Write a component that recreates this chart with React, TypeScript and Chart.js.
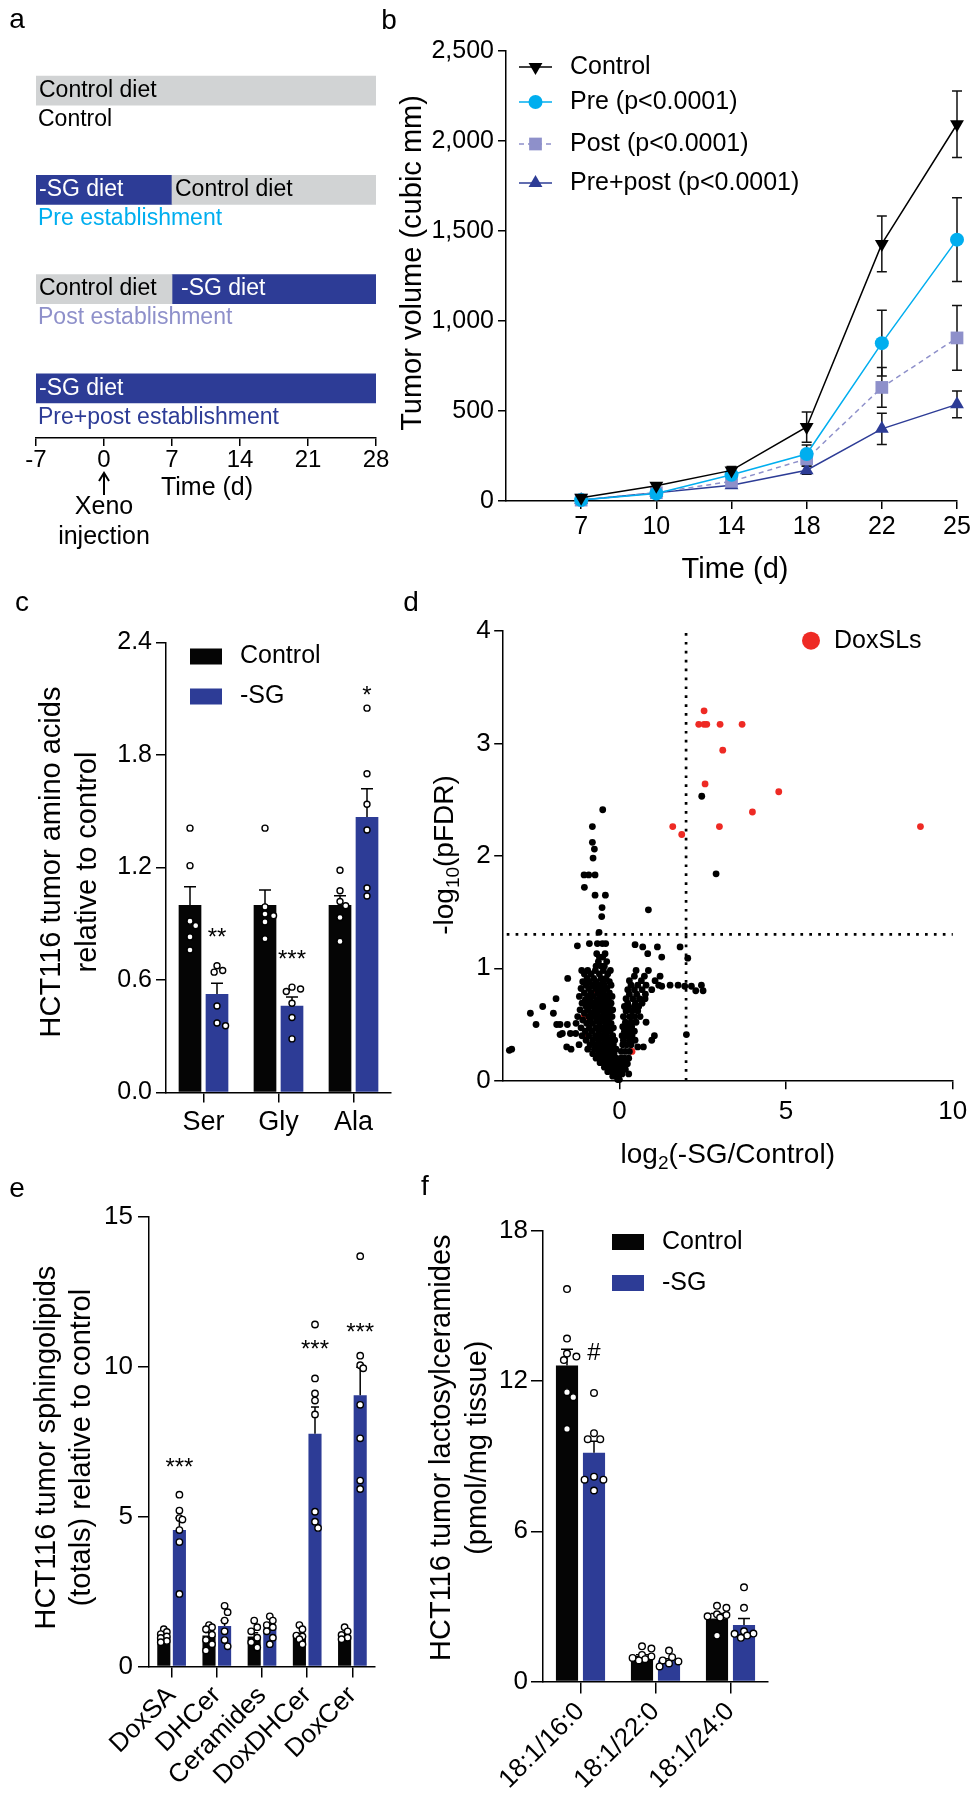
import React, { useEffect, useRef } from 'react';
import { Chart, registerables } from 'chart.js';

Chart.register(...registerables);

const FONT = '"Liberation Sans", Arial, Helvetica, sans-serif';
Chart.defaults.font.family = FONT;
Chart.defaults.color = '#000';

// ---------------- colours ----------------
const BLUE = '#2D3C96';
const CYAN = '#00AEEF';
const LAVENDER = '#8E90CA';
const GRAY = '#D1D3D4';
const BLACK = '#050505';
const RED = '#EE2A24';

// ---------------- panel a: study design ----------------
const aRows = ['Control', 'Pre establishment', 'Post establishment', 'Pre+post establishment'];
const aControlDiet = [[-7, 28], [7, 28], [-7, 7], null];
const aSgDiet = [null, [-7, 7], [7, 28], [-7, 28]];
const aDayTicks = [-7, 0, 7, 14, 21, 28];
const aInjectionDay = 0;

// ---------------- panel b: tumour growth ----------------
const bDays = ['7', '10', '14', '18', '22', '25'];
const bControl = [18, 85, 170, 411, 1428, 2093];
const bControlErr = [5, 14, 22, 84, 155, 185];
const bPre = [5, 42, 146, 261, 877, 1452];
const bPreErr = [3, 8, 18, 50, 183, 233];
const bPost = [5, 46, 109, 234, 631, 906];
const bPostErr = [3, 8, 14, 40, 110, 180];
const bPrePost = [5, 46, 88, 171, 401, 537];
const bPrePostErr = [3, 8, 12, 22, 87, 74];
const bLegend = ['Control', 'Pre (p<0.0001)', 'Post (p<0.0001)', 'Pre+post (p<0.0001)'];
const bYTicks = [0, 500, 1000, 1500, 2000, 2500];

// ---------------- panel c: amino acids ----------------
const cCats = ['Ser', 'Gly', 'Ala'];
const cCtrl = [1.0, 1.0, 1.0];
const cCtrlErr = [0.097, 0.08, 0.05];
const cSg = [0.526, 0.463, 1.469];
const cSgErr = [0.057, 0.047, 0.151];
const cCtrlPts = [
  [1.41, 1.21, 0.914, 0.89, 0.83, 0.76],
  [1.41, 0.99, 0.952, 0.943, 0.91, 0.82],
  [1.185, 1.076, 1.019, 0.996, 0.933, 0.806],
];
const cSgPts = [
  [0.676, 0.651, 0.642, 0.461, 0.371, 0.356],
  [0.562, 0.552, 0.539, 0.476, 0.4, 0.286],
  [2.05, 1.7, 1.537, 1.4, 1.091, 1.048],
];
const cSig = ['**', '***', '*'];
const cSigAt = [0.86, 0.744, 2.15];
const cYTicks = [0, 0.6, 1.2, 1.8, 2.4];

// ---------------- panel d: volcano ----------------
const dFoldCut = 2;
const dFdrCut = 1.301;
const dXTicks = [0, 5, 10];
const dYTicks = [0, 1, 2, 3, 4];
const dDoxSLs = [
  [2.54, 3.29], [2.38, 3.17], [2.54, 3.17], [2.62, 3.17], [3.02, 3.17], [3.68, 3.17], [3.1, 2.94],
  [2.57, 2.64], [4.78, 2.57], [3.99, 2.39], [3.0, 2.26], [9.03, 2.26], [1.6, 2.26], [1.87, 2.19],
  [-0.67, 0.8], [-1.07, 0.56], [-1.02, 0.41], [-0.52, 0.26], [0.38, 0.26],
];
const dOther = [
  [-0.5, 2.41], [-0.81, 2.26], [-0.81, 2.12], [-0.75, 2.06], [-0.79, 1.98], [-1.06, 1.83], [-0.92, 1.83],
  [-0.73, 1.83], [-1.05, 1.72], [-0.73, 1.65], [-0.42, 1.65], [-0.52, 1.54], [-0.53, 1.46], [0.87, 1.52],
  [-0.61, 1.32], [2.47, 2.53], [2.9, 1.84],
  [-0.9, 1.22], [-0.66, 1.22], [-0.51, 1.22], [-0.41, 1.22], [-1.26, 1.2], [-0.68, 1.13], [-0.43, 1.13],
  [-0.6, 1.1], [-0.5, 1.1], [-0.63, 1.06], [-0.38, 1.06], [-0.7, 1.02], [-0.55, 1.02], [-0.45, 1.02],
  [-1.13, 0.98], [-0.95, 0.98], [-0.72, 0.98], [-0.48, 0.98], [-0.27, 0.98],
  [-1.05, 0.95], [-0.85, 0.95], [-0.6, 0.95], [-0.35, 0.95],
  [-1.55, 0.91], [-0.97, 0.91], [-0.77, 0.91], [-0.55, 0.91], [-0.4, 0.91],
  [-1.1, 0.88], [-0.9, 0.88], [-0.7, 0.88], [-0.5, 0.88], [-0.3, 0.88],
  [-1.0, 0.85], [-0.8, 0.85], [-0.62, 0.85], [-0.45, 0.85], [-0.25, 0.85],
  [-1.15, 0.82], [-0.92, 0.82], [-0.72, 0.82], [-0.55, 0.82], [-0.38, 0.82],
  [-1.05, 0.78], [-0.85, 0.78], [-0.65, 0.78], [-0.48, 0.78], [-0.3, 0.78],
  [-1.2, 0.75], [-0.95, 0.75], [-0.78, 0.75], [-0.58, 0.75], [-0.4, 0.75], [-0.22, 0.75], [-1.9, 0.73],
  [-1.02, 0.72], [-0.88, 0.72], [-0.68, 0.72], [-0.5, 0.72], [-0.33, 0.72],
  [-1.12, 0.69], [-0.93, 0.69], [-0.75, 0.69], [-0.6, 0.69], [-0.42, 0.69], [-0.25, 0.69],
  [-2.3, 0.66], [-1.0, 0.66], [-0.82, 0.66], [-0.65, 0.66], [-0.48, 0.66], [-0.3, 0.66],
  [-1.18, 0.63], [-0.95, 0.63], [-0.72, 0.63], [-0.55, 0.63], [-0.38, 0.63], [-0.2, 0.63],
  [-2.67, 0.6], [-1.98, 0.6], [-1.05, 0.6], [-0.85, 0.6], [-0.66, 0.6], [-0.47, 0.6], [-0.3, 0.6],
  [-1.25, 0.57], [-0.92, 0.57], [-0.75, 0.57], [-0.58, 0.57], [-0.4, 0.57], [-0.22, 0.57],
  [-1.1, 0.54], [-0.88, 0.54], [-0.68, 0.54], [-0.5, 0.54], [-0.33, 0.54],
  [-1.3, 0.51], [-0.98, 0.51], [-0.8, 0.51], [-0.6, 0.51], [-0.42, 0.51], [-0.25, 0.51],
  [-2.5, 0.5], [-1.88, 0.5], [-1.78, 0.5], [-1.56, 0.5],
  [-1.15, 0.47], [-0.9, 0.47], [-0.7, 0.47], [-0.52, 0.47], [-0.35, 0.47], [-0.18, 0.47],
  [-1.02, 0.44], [-0.82, 0.44], [-0.62, 0.44], [-0.45, 0.44], [-0.28, 0.44],
  [-1.71, 0.42], [-1.47, 0.42], [-1.31, 0.42], [-1.78, 0.41],
  [-1.12, 0.4], [-0.92, 0.4], [-0.72, 0.4], [-0.55, 0.4], [-0.38, 0.4], [-0.2, 0.4],
  [-1.0, 0.36], [-0.8, 0.36], [-0.62, 0.36], [-0.45, 0.36], [-0.28, 0.36], [-0.14, 0.36],
  [-1.21, 0.32], [-0.88, 0.32], [-0.7, 0.32], [-0.52, 0.32], [-0.35, 0.32], [-0.18, 0.32], [-1.58, 0.3],
  [-3.3, 0.27], [-3.23, 0.28], [-1.45, 0.28], [-0.95, 0.28], [-0.75, 0.28], [-0.58, 0.28], [-0.42, 0.28],
  [-0.25, 0.28], [-0.1, 0.28],
  [-0.8, 0.24], [-0.62, 0.24], [-0.46, 0.24], [-0.3, 0.24], [-0.16, 0.24],
  [-0.7, 0.2], [-0.52, 0.2], [-0.38, 0.2], [-0.24, 0.2], [-0.1, 0.2],
  [-0.58, 0.16], [-0.44, 0.16], [-0.3, 0.16], [-0.18, 0.16], [-0.06, 0.16],
  [-0.45, 0.12], [-0.32, 0.12], [-0.2, 0.12], [-0.09, 0.12],
  [-0.35, 0.08], [-0.22, 0.08], [-0.12, 0.08], [-0.03, 0.08], [-0.2, 0.04], [-0.1, 0.04], [-0.05, 0.01], [0.0, 0.01],
  [0.47, 1.21], [0.7, 1.19], [1.14, 1.19], [1.82, 1.19], [0.85, 1.13], [1.27, 1.1], [2.05, 1.09],
  [0.5, 0.98], [0.87, 0.98], [0.45, 0.93], [0.75, 0.93], [1.22, 0.93], [0.3, 0.89], [0.66, 0.89], [1.07, 0.89],
  [0.35, 0.85], [0.55, 0.85], [0.8, 0.85], [1.18, 0.85], [1.52, 0.85], [1.76, 0.85], [2.46, 0.85],
  [1.27, 0.84], [1.96, 0.84], [2.16, 0.84], [2.29, 0.8], [2.51, 0.8],
  [0.25, 0.81], [0.45, 0.81], [0.68, 0.81], [0.97, 0.81], [0.3, 0.77], [0.52, 0.77], [0.78, 0.77],
  [0.2, 0.73], [0.4, 0.73], [0.6, 0.73], [0.77, 0.73], [0.25, 0.69], [0.48, 0.69], [0.68, 0.69],
  [0.15, 0.66], [0.27, 0.66], [0.45, 0.66], [0.58, 0.66], [0.2, 0.62], [0.38, 0.62], [0.55, 0.62],
  [0.12, 0.57], [0.3, 0.57], [0.45, 0.57], [0.62, 0.57], [0.18, 0.52], [0.35, 0.52], [0.5, 0.52], [0.8, 0.52],
  [0.1, 0.48], [0.25, 0.48], [0.37, 0.48], [0.15, 0.44], [0.3, 0.44], [0.45, 0.44], [2.01, 0.41],
  [0.08, 0.4], [0.2, 0.4], [0.27, 0.4], [0.38, 0.4], [1.05, 0.4], [0.12, 0.36], [0.3, 0.36], [0.47, 0.36], [0.97, 0.36],
  [0.1, 0.32], [0.22, 0.32], [0.35, 0.32], [0.55, 0.3], [0.72, 0.3], [0.06, 0.26], [0.18, 0.26], [0.3, 0.26],
  [0.05, 0.2], [0.15, 0.2], [0.28, 0.2], [0.04, 0.15], [0.12, 0.15], [0.24, 0.15],
  [0.03, 0.1], [0.1, 0.1], [0.18, 0.1], [0.02, 0.06], [0.08, 0.06], [0.28, 0.06],
];

// ---------------- panel e: sphingolipid totals ----------------
const eCats = ['DoxSA', 'DHCer', 'Ceramides', 'DoxDHCer', 'DoxCer'];
const eCtrl = [1.0, 1.03, 1.0, 1.03, 1.03];
const eCtrlErr = [0.05, 0.1, 0.12, 0.08, 0.06];
const eSg = [4.55, 1.35, 1.27, 7.76, 9.05];
const eSgErr = [0.4, 0.18, 0.12, 0.9, 0.93];
const eCtrlPts = [
  [1.24, 1.15, 1.08, 1.0, 0.95, 0.85, 0.81],
  [1.38, 1.31, 1.24, 1.06, 0.88, 0.74, 0.53],
  [1.53, 1.31, 1.17, 0.96, 0.81, 0.63],
  [1.38, 1.24, 1.03, 1.0, 0.91, 0.74],
  [1.31, 1.17, 1.05, 0.96, 0.91],
];
const eSgPts = [
  [5.73, 5.2, 4.95, 4.9, 4.55, 4.15, 2.42],
  [2.02, 1.81, 1.53, 1.17, 0.88, 0.67],
  [1.67, 1.53, 1.38, 1.31, 1.17, 0.96, 0.74],
  [11.41, 9.61, 9.11, 8.87, 8.41, 5.16, 4.83, 4.62],
  [13.69, 10.37, 10.05, 9.95, 8.73, 7.61, 6.2, 5.92],
];
const eSig = ['***', '', '', '***', '***'];
const eSigAt = [6.84, null, null, 10.79, 11.36];
const eYTicks = [0, 5, 10, 15];

// ---------------- panel f: lactosylceramides ----------------
const fCats = ['18:1/16:0', '18:1/22:0', '18:1/24:0'];
const fCtrl = [12.62, 1.02, 2.51];
const fCtrlErr = [0.65, 0.05, 0.2];
const fSg = [9.14, 0.84, 2.25];
const fSgErr = [0.46, 0.07, 0.26];
const fCtrlPts = [
  [15.68, 13.7, 13.1, 12.98, 12.84, 11.56, 11.36, 10.09],
  [1.4, 1.31, 1.06, 1.0, 0.94, 0.89, 0.84],
  [3.02, 2.94, 2.68, 2.65, 2.6, 2.55, 1.83],
];
const fSgPts = [
  [11.53, 9.92, 9.68, 9.68, 8.18, 8.06, 8.06, 7.63],
  [1.23, 0.97, 0.84, 0.8, 0.72, 0.6],
  [3.76, 2.94, 2.0, 1.91, 1.9, 1.83, 1.74],
];
const fSgSig = ['#', '', ''];
const fSigAt = [13.18, null, null];
const fYTicks = [0, 6, 12, 18];

// ================= helpers =================
function txt(ctx: any, s: string, x: number, y: number, size: number, color = '#000', align = 'center', baseline = 'middle') {
  ctx.save();
  ctx.font = `${size}px ${FONT}`;
  ctx.fillStyle = color;
  ctx.textAlign = align;
  ctx.textBaseline = baseline;
  ctx.fillText(s, x, y);
  ctx.restore();
}

function rotTxt(ctx: any, s: string, cx: number, cy: number, size: number) {
  ctx.save();
  ctx.translate(cx, cy);
  ctx.rotate(-Math.PI / 2);
  txt(ctx, s, 0, 0, size);
  ctx.restore();
}

function richText(ctx: any, parts: { t: string; sub?: boolean }[], cx: number, cy: number, size: number, rot = 0) {
  ctx.save();
  ctx.translate(cx, cy);
  ctx.rotate(rot);
  ctx.fillStyle = '#000';
  ctx.textBaseline = 'alphabetic';
  ctx.textAlign = 'left';
  const fs = (p: any) => (p.sub ? size * 0.68 : size);
  let total = 0;
  parts.forEach((p) => { ctx.font = `${fs(p)}px ${FONT}`; total += ctx.measureText(p.t).width; });
  let x = -total / 2;
  const base = size * 0.36;
  parts.forEach((p) => {
    ctx.font = `${fs(p)}px ${FONT}`;
    ctx.fillText(p.t, x, base + (p.sub ? size * 0.22 : 0));
    x += ctx.measureText(p.t).width;
  });
  ctx.restore();
}

function marker(ctx: any, style: string, x: number, y: number, r: number, rot: number, color: string) {
  ctx.save();
  ctx.fillStyle = color;
  ctx.beginPath();
  if (style === 'circle') {
    ctx.arc(x, y, r, 0, Math.PI * 2);
  } else if (style === 'rect') {
    const s = Math.SQRT1_2 * r;
    ctx.rect(x - s, y - s, 2 * s, 2 * s);
  } else {
    let a = (rot * Math.PI) / 180;
    ctx.moveTo(x + Math.sin(a) * r, y - Math.cos(a) * r);
    a += (2 * Math.PI) / 3;
    ctx.lineTo(x + Math.sin(a) * r, y - Math.cos(a) * r);
    a += (2 * Math.PI) / 3;
    ctx.lineTo(x + Math.sin(a) * r, y - Math.cos(a) * r);
    ctx.closePath();
  }
  ctx.fill();
  ctx.restore();
}

function swarm(ys: number[], r: number, maxOff: number) {
  const order = ys.map((_, i) => i).sort((a, b) => ys[a] - ys[b]);
  const placed: { x: number; y: number }[] = [];
  const out = ys.map(() => 0);
  const minD = 2 * r + 0.6;
  const step = r * 0.95;
  for (const i of order) {
    const y = ys[i];
    let best = 0;
    let bestD = -1;
    for (let k = 0; k < 30; k++) {
      const c = k === 0 ? 0 : (k % 2 ? 1 : -1) * Math.ceil(k / 2) * step;
      if (Math.abs(c) > maxOff + 0.01) continue;
      const d = placed.length ? Math.min(...placed.map((p) => Math.hypot(p.x - c, p.y - y))) : 1e9;
      if (d >= minD) { best = c; bestD = d; break; }
      if (d > bestD) { bestD = d; best = c; }
    }
    placed.push({ x: best, y });
    out[i] = best;
  }
  return out;
}

function layoutFor(W: number, H: number, a: any, wy: number, hx: number) {
  return { padding: { left: a.left - wy, top: a.top, right: W - a.right, bottom: H - a.bottom - hx } };
}

function axisStyle(tickLen: number, tickColor: any = '#000') {
  return {
    border: { display: true, color: '#000', width: 1.5 },
    grid: { display: true, drawOnChartArea: false, drawTicks: true, tickLength: tickLen, tickColor, lineWidth: 1.5, offset: false },
  };
}

function yLinear(min: number, max: number, ticks: number[], wy: number, size: number, tickLen: number, pad: number, fmt?: (v: number) => string) {
  return {
    type: 'linear',
    position: 'left',
    min,
    max,
    afterBuildTicks: (s: any) => { s.ticks = ticks.map((v) => ({ value: v })); },
    afterFit: (s: any) => { s.width = wy; },
    ...axisStyle(tickLen),
    ticks: { color: '#000', font: { size, family: FONT }, padding: pad, callback: (v: any) => (fmt ? fmt(Number(v)) : String(v)) },
  };
}

function xCategory(hx: number, size: number, tickLen: number, pad: number, rot = 0, offset = true, tickColor: any = '#000') {
  return {
    type: 'category',
    position: 'bottom',
    offset,
    afterFit: (s: any) => { s.height = hx; },
    ...axisStyle(tickLen, tickColor),
    ticks: { color: '#000', font: { size, family: FONT }, padding: pad, autoSkip: false, minRotation: rot, maxRotation: rot },
  };
}

const baseOpts = (layout: any) => ({
  responsive: false,
  animation: false,
  events: [],
  layout,
  plugins: { legend: { display: false }, tooltip: { enabled: false }, title: { display: false } },
});

function barExtras(o: any) {
  return {
    id: 'barExtras',
    afterDatasetsDraw(chart: any) {
      const ctx = chart.ctx;
      const ys = chart.scales.y;
      ctx.save();
      chart.data.datasets.forEach((ds: any, di: number) => {
        const meta = chart.getDatasetMeta(di);
        meta.data.forEach((el: any, j: number) => {
          const top = ys.getPixelForValue(ds.data[j] + o.errs[di][j]);
          ctx.strokeStyle = '#000';
          ctx.lineWidth = 1.5;
          ctx.beginPath();
          ctx.moveTo(el.x, el.y);
          ctx.lineTo(el.x, top);
          ctx.moveTo(el.x - o.capW / 2, top);
          ctx.lineTo(el.x + o.capW / 2, top);
          ctx.stroke();
        });
      });
      chart.data.datasets.forEach((ds: any, di: number) => {
        const meta = chart.getDatasetMeta(di);
        meta.data.forEach((el: any, j: number) => {
          const py = o.pts[di][j].map((v: number) => ys.getPixelForValue(v));
          const offs = swarm(py, o.dotR, el.width / 2 - 1);
          py.forEach((y: number, k: number) => {
            ctx.beginPath();
            ctx.arc(el.x + offs[k], y, o.dotR, 0, Math.PI * 2);
            ctx.fillStyle = '#fff';
            ctx.fill();
            ctx.lineWidth = 1.4;
            ctx.strokeStyle = '#000';
            ctx.stroke();
          });
        });
      });
      const meta = chart.getDatasetMeta(1);
      o.sig.forEach((s: string, j: number) => {
        if (!s || o.sigAt[j] == null) return;
        const y = ys.getPixelForValue(o.sigAt[j]);
        const off = s.includes('*') ? 0.57 * o.sigSize : 0.36 * o.sigSize;
        txt(ctx, s, meta.data[j].x, y + off, o.sigSize, '#000', 'center', 'alphabetic');
      });
      ctx.restore();
    },
  };
}

// ================= panel configs =================
function configA() {
  const W = 400, H = 560, hx = 40;
  const area = { left: 36, top: 41, right: 376, bottom: 438 };
  const rowColors = ['#000', CYAN, LAVENDER, BLUE];
  const deco = {
    id: 'decoA',
    afterDatasetsDraw(chart: any) {
      const ctx = chart.ctx;
      const xs = chart.scales.x, ys = chart.scales.y;
      chart.data.datasets.forEach((ds: any, di: number) => {
        const meta = chart.getDatasetMeta(di);
        meta.data.forEach((el: any, i: number) => {
          if (!ds.data[i]) return;
          const start = Math.min(el.x, el.base);
          const inset = start > chart.chartArea.left + 5 && di === 1 ? 9 : 3;
          txt(ctx, ds.label, start + inset, el.y, 23, di === 1 ? '#fff' : '#000', 'left');
        });
      });
      aRows.forEach((r, i) => txt(ctx, r, chart.chartArea.left + 2, ys.getPixelForValue(i) + 29, 23, rowColors[i], 'left'));
      const px = xs.getPixelForValue(aInjectionDay);
      ctx.save();
      ctx.strokeStyle = '#000';
      ctx.lineWidth = 2;
      ctx.beginPath();
      ctx.moveTo(px, 495);
      ctx.lineTo(px, 474);
      ctx.moveTo(px - 5, 481);
      ctx.lineTo(px, 473);
      ctx.lineTo(px + 5, 481);
      ctx.stroke();
      ctx.restore();
      txt(ctx, 'Xeno', px, 507, 25);
      txt(ctx, 'injection', px, 537, 25);
      txt(ctx, 'Time (d)', 207, 488, 25);
      txt(ctx, 'a', 17, 20, 28);
    },
  };
  return {
    type: 'bar',
    data: {
      labels: aRows,
      datasets: [
        { label: 'Control diet', data: aControlDiet, backgroundColor: GRAY, barThickness: 29, grouped: false },
        { label: '-SG diet', data: aSgDiet, backgroundColor: BLUE, barThickness: 29, grouped: false },
      ],
    },
    options: {
      ...baseOpts(layoutFor(W, H, area, 0, hx)),
      indexAxis: 'y',
      scales: {
        x: {
          type: 'linear',
          position: 'bottom',
          min: -7,
          max: 28,
          afterBuildTicks: (s: any) => { s.ticks = aDayTicks.map((v) => ({ value: v })); },
          afterFit: (s: any) => { s.height = hx; },
          ...axisStyle(8),
          ticks: { color: '#000', font: { size: 24, family: FONT }, padding: 0 },
        },
        y: { type: 'category', display: false },
      },
    },
    plugins: [deco],
  };
}

function configB() {
  const W = 599, H = 595, wy = 80, hx = 45;
  const area = { left: 126, top: 51, right: 577, bottom: 501 };
  const series = [
    { label: bLegend[0], v: bControl, e: bControlErr, color: '#000', style: 'triangle', r: 8, rot: 180, dash: [] as number[] },
    { label: bLegend[1], v: bPre, e: bPreErr, color: CYAN, style: 'circle', r: 7, rot: 0, dash: [] as number[] },
    { label: bLegend[2], v: bPost, e: bPostErr, color: LAVENDER, style: 'rect', r: 9, rot: 0, dash: [5, 4] },
    { label: bLegend[3], v: bPrePost, e: bPrePostErr, color: BLUE, style: 'triangle', r: 8, rot: 0, dash: [] as number[] },
  ];
  const legendY = [67, 102, 144, 183];
  const deco = {
    id: 'decoB',
    beforeDatasetsDraw(chart: any) {
      const ctx = chart.ctx, ys = chart.scales.y;
      ctx.save();
      ctx.strokeStyle = '#111';
      ctx.lineWidth = 1.5;
      series.forEach((s, di) => {
        const meta = chart.getDatasetMeta(di);
        s.v.forEach((v, j) => {
          const el = meta.data[j + 1];
          const t = ys.getPixelForValue(v + s.e[j]);
          const b = ys.getPixelForValue(Math.max(0, v - s.e[j]));
          ctx.beginPath();
          ctx.moveTo(el.x, b); ctx.lineTo(el.x, t);
          ctx.moveTo(el.x - 5, t); ctx.lineTo(el.x + 5, t);
          ctx.moveTo(el.x - 5, b); ctx.lineTo(el.x + 5, b);
          ctx.stroke();
        });
      });
      ctx.restore();
    },
    afterDatasetsDraw(chart: any) {
      const ctx = chart.ctx;
      series.forEach((s, i) => {
        const y = legendY[i];
        ctx.save();
        ctx.strokeStyle = s.color;
        ctx.lineWidth = 1.5;
        ctx.setLineDash(s.dash);
        ctx.beginPath();
        ctx.moveTo(139, y); ctx.lineTo(172, y);
        ctx.stroke();
        ctx.restore();
        marker(ctx, s.style, 155.5, y, s.r, s.rot, s.color);
        txt(ctx, s.label, 190, y, 25, '#000', 'left');
      });
      rotTxt(ctx, 'Tumor volume (cubic mm)', 32.5, 263, 29);
      txt(ctx, 'Time (d)', 355, 570, 29);
      txt(ctx, 'b', 9, 21, 28);
    },
  };
  return {
    type: 'line',
    data: {
      labels: ['', ...bDays],
      datasets: series.map((s) => ({
        label: s.label,
        data: [null, ...s.v],
        borderColor: s.color,
        backgroundColor: s.color,
        pointBackgroundColor: s.color,
        pointStyle: s.style,
        pointRadius: s.r,
        pointRotation: s.rot,
        pointBorderWidth: 0,
        borderWidth: 1.5,
        borderDash: s.dash,
        tension: 0,
        clip: false,
      })),
    },
    options: {
      ...baseOpts(layoutFor(W, H, area, wy, hx)),
      scales: {
        x: xCategory(hx, 25, 8, 3, 0, false, (c: any) => (c.index === 0 ? 'rgba(0,0,0,0)' : '#000')),
        y: yLinear(0, 2500, bYTicks, wy, 25, 8, 4, (v) => v.toLocaleString('en-US')),
      },
    },
    plugins: [deco],
  };
}

function barLegend(ctx: any, x: number, ys: number[], labels: string[], colors: string[]) {
  labels.forEach((l, i) => {
    ctx.fillStyle = colors[i];
    ctx.fillRect(x, ys[i] - 8, 32, 16);
    txt(ctx, l, x + 50, ys[i], 25, '#000', 'left');
  });
}

function configC() {
  const W = 420, H = 560, wy = 60, hx = 45;
  const area = { left: 166, top: 62.5, right: 391, bottom: 512.5 };
  const deco = {
    id: 'decoC',
    afterDatasetsDraw(chart: any) {
      const ctx = chart.ctx;
      barLegend(ctx, 190, [76.5, 116.5], ['Control', '-SG'], [BLACK, BLUE]);
      rotTxt(ctx, 'HCT116 tumor amino acids', 52, 282, 29);
      rotTxt(ctx, 'relative to control', 88, 282, 29);
      txt(ctx, 'c', 22, 23, 28);
    },
  };
  return {
    type: 'bar',
    data: {
      labels: cCats,
      datasets: [
        { label: 'Control', data: cCtrl, backgroundColor: BLACK, categoryPercentage: 0.72, barPercentage: 0.84 },
        { label: '-SG', data: cSg, backgroundColor: BLUE, categoryPercentage: 0.72, barPercentage: 0.84 },
      ],
    },
    options: {
      ...baseOpts(layoutFor(W, H, area, wy, hx)),
      scales: {
        x: xCategory(hx, 27, 10, 4),
        y: yLinear(0, 2.4, cYTicks, wy, 25, 10, 4, (v) => v.toFixed(1)),
      },
    },
    plugins: [barExtras({ errs: [cCtrlErr, cSgErr], pts: [cCtrlPts, cSgPts], capW: 12, dotR: 3, sig: cSig, sigAt: cSigAt, sigSize: 24 }), deco],
  };
}

function configD() {
  const W = 579, H = 595, wy = 50, hx = 45;
  const area = { left: 102.7, top: 51, right: 552.8, bottom: 500.7 };
  const deco = {
    id: 'decoD',
    beforeDatasetsDraw(chart: any) {
      const ctx = chart.ctx, xs = chart.scales.x, ys = chart.scales.y, ca = chart.chartArea;
      ctx.save();
      ctx.strokeStyle = '#000';
      ctx.lineWidth = 2.7;
      ctx.setLineDash([2.7, 6.2]);
      const vx = xs.getPixelForValue(dFoldCut);
      ctx.beginPath(); ctx.moveTo(vx, ca.bottom); ctx.lineTo(vx, ca.top); ctx.stroke();
      const hy = ys.getPixelForValue(dFdrCut);
      ctx.beginPath(); ctx.moveTo(ca.left + 4, hy); ctx.lineTo(ca.right, hy); ctx.stroke();
      ctx.restore();
    },
    afterDatasetsDraw(chart: any) {
      const ctx = chart.ctx, ca = chart.chartArea;
      ctx.save();
      ctx.fillStyle = RED;
      ctx.beginPath(); ctx.arc(411, 60.7, 9, 0, Math.PI * 2); ctx.fill();
      ctx.restore();
      txt(ctx, 'DoxSLs', 434, 60.7, 25, '#000', 'left');
      richText(ctx, [{ t: '-log' }, { t: '10', sub: true }, { t: '(pFDR)' }], 42.5, 275, 28, -Math.PI / 2);
      richText(ctx, [{ t: 'log' }, { t: '2', sub: true }, { t: '(-SG/Control)' }], (ca.left + ca.right) / 2, 572.8, 28);
      txt(ctx, 'd', 11, 23, 28);
    },
  };
  return {
    type: 'scatter',
    data: {
      datasets: [
        { label: 'other', data: dOther.map(([x, y]) => ({ x, y })), backgroundColor: '#000', pointRadius: 3.4, pointBorderWidth: 0, clip: false },
        { label: 'DoxSLs', data: dDoxSLs.map(([x, y]) => ({ x, y })), backgroundColor: RED, pointRadius: 3.4, pointBorderWidth: 0, clip: false },
      ],
    },
    options: {
      ...baseOpts(layoutFor(W, H, area, wy, hx)),
      scales: {
        x: {
          type: 'linear',
          position: 'bottom',
          min: -3.5,
          max: 10,
          afterBuildTicks: (s: any) => { s.ticks = dXTicks.map((v) => ({ value: v })); },
          afterFit: (s: any) => { s.height = hx; },
          ...axisStyle(8.5),
          ticks: { color: '#000', font: { size: 26, family: FONT }, padding: 7 },
        },
        y: yLinear(0, 4, dYTicks, wy, 26, 8.5, 3.5),
      },
    },
    plugins: [deco],
  };
}

function configE() {
  const W = 420, H = 670, wy = 50, hx = 130;
  const area = { left: 149, top: 76.9, right: 375, bottom: 526.4 };
  const deco = {
    id: 'decoE',
    afterDatasetsDraw(chart: any) {
      const ctx = chart.ctx;
      rotTxt(ctx, 'HCT116 tumor sphingolipids', 47, 307.6, 29);
      rotTxt(ctx, '(totals) relative to control', 82, 307.6, 29);
      txt(ctx, 'e', 17, 49, 28);
    },
  };
  return {
    type: 'bar',
    data: {
      labels: eCats,
      datasets: [
        { label: 'Control', data: eCtrl, backgroundColor: BLACK, categoryPercentage: 0.69, barPercentage: 0.84 },
        { label: '-SG', data: eSg, backgroundColor: BLUE, categoryPercentage: 0.69, barPercentage: 0.84 },
      ],
    },
    options: {
      ...baseOpts(layoutFor(W, H, area, wy, hx)),
      scales: {
        x: xCategory(hx, 26, 11, 3, 45),
        y: yLinear(0, 15, eYTicks, wy, 26, 11, 5),
      },
    },
    plugins: [barExtras({ errs: [eCtrlErr, eSgErr], pts: [eCtrlPts, eSgPts], capW: 8, dotR: 3.2, sig: eSig, sigAt: eSigAt, sigSize: 24 }), deco],
  };
}

function configF() {
  const W = 400, H = 670, wy = 50, hx = 120;
  const area = { left: 123, top: 91, right: 348, bottom: 541.4 };
  const deco = {
    id: 'decoF',
    afterDatasetsDraw(chart: any) {
      const ctx = chart.ctx;
      barLegend(ctx, 192, [102, 143], ['Control', '-SG'], [BLACK, BLUE]);
      rotTxt(ctx, 'HCT116 tumor lactosylceramides', 22, 307.7, 29);
      rotTxt(ctx, '(pmol/mg tissue)', 58, 307.7, 29);
      txt(ctx, 'f', 5, 47, 28);
    },
  };
  return {
    type: 'bar',
    data: {
      labels: fCats,
      datasets: [
        { label: 'Control', data: fCtrl, backgroundColor: BLACK, categoryPercentage: 0.72, barPercentage: 0.82 },
        { label: '-SG', data: fSg, backgroundColor: BLUE, categoryPercentage: 0.72, barPercentage: 0.82 },
      ],
    },
    options: {
      ...baseOpts(layoutFor(W, H, area, wy, hx)),
      scales: {
        x: xCategory(hx, 26, 12, 3, 45),
        y: yLinear(0, 18, fYTicks, wy, 26, 12, 3),
      },
    },
    plugins: [barExtras({ errs: [fCtrlErr, fSgErr], pts: [fCtrlPts, fSgPts], capW: 12, dotR: 3.3, sig: fSgSig, sigAt: fSigAt, sigSize: 24 }), deco],
  };
}

// ================= components =================
function ChartBox({ x, y, w, h, make }: { x: number; y: number; w: number; h: number; make: () => any }) {
  const ref = useRef<HTMLCanvasElement>(null);
  useEffect(() => {
    const chart = new Chart(ref.current as HTMLCanvasElement, make());
    return () => chart.destroy();
  }, []);
  return (
    <div style={{ position: 'absolute', left: x, top: y, width: w, height: h }}>
      <canvas ref={ref} width={w} height={h} style={{ width: w, height: h, display: 'block' }} />
    </div>
  );
}

export default function App() {
  return (
    <div style={{ position: 'absolute', left: 0, top: 0, width: 979, height: 1810, background: '#fff', overflow: 'hidden' }}>
      <ChartBox x={0} y={0} w={400} h={560} make={configA} />
      <ChartBox x={380} y={0} w={599} h={595} make={configB} />
      <ChartBox x={0} y={580} w={420} h={560} make={configC} />
      <ChartBox x={400} y={580} w={579} h={595} make={configD} />
      <ChartBox x={0} y={1140} w={420} h={670} make={configE} />
      <ChartBox x={420} y={1140} w={400} h={670} make={configF} />
    </div>
  );
}
